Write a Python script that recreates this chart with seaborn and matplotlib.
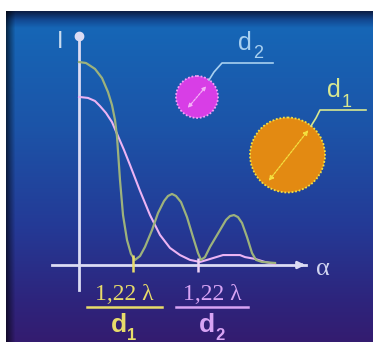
import numpy as np
import pandas as pd
import matplotlib
matplotlib.use("Agg")
import matplotlib.pyplot as plt
import seaborn as sns
from matplotlib.patches import Circle

# ---- data (alpha in units of 1,22 lambda/d1 ; intensity relative to peak) ----
alpha_d1 = [0.000, 0.130, 0.296, 0.426, 0.537, 0.611, 0.667, 0.704, 0.759, 0.815,
            0.889, 0.963, 1.037, 1.130, 1.222, 1.352, 1.463, 1.574, 1.648, 1.722,
            1.796, 1.889, 2.000, 2.111, 2.204, 2.259, 2.333, 2.426, 2.611, 2.722,
            2.796, 2.870, 2.944, 3.019, 3.111, 3.204, 3.278, 3.389, 3.630]
intensity_d1 = [1.000, 0.995, 0.966, 0.921, 0.852, 0.788, 0.714, 0.631, 0.419, 0.246,
                0.123, 0.054, 0.025, 0.044, 0.089, 0.172, 0.256, 0.315, 0.340, 0.350,
                0.340, 0.310, 0.236, 0.138, 0.059, 0.025, 0.039, 0.089, 0.172, 0.222,
                0.241, 0.246, 0.236, 0.207, 0.138, 0.059, 0.025, 0.015, 0.010]
alpha_d2 = [0.000, 0.167, 0.296, 0.389, 0.500, 0.611, 0.722, 0.833, 0.944, 1.130,
            1.315, 1.500, 1.685, 1.870, 2.056, 2.241, 2.370, 2.481, 2.667, 2.981,
            3.074, 3.259, 3.444, 3.630]
intensity_d2 = [0.828, 0.823, 0.808, 0.783, 0.749, 0.704, 0.635, 0.567, 0.493, 0.365,
                0.246, 0.148, 0.084, 0.049, 0.025, 0.015, 0.025, 0.034, 0.049, 0.049,
                0.039, 0.030, 0.015, 0.005]
tick_positions = [1.0, 2.2]
tick_numerators = ["1,22 λ", "1,22 λ"]
tick_denominators = ["d", "d"]
tick_subscripts = ["1", "2"]

GREEN = "#9db27c"
PINK = "#ecb4f4"
YELLOW = "#e8dc6a"
LILAC = "#d8a4f4"
AXIS = "#dcdcf4"

W, H = 375, 350
fig = plt.figure(figsize=(W / 100, H / 100), dpi=100)
fig.patch.set_facecolor("white")

# ---- background panel with vertical gradient ----
pw, ph = 367, 331
stops_t = [0.0, 0.025, 0.05, 0.35, 0.65, 0.88, 1.0]
stops_c = np.array([[12, 30, 70], [18, 72, 145], [22, 102, 182], [28, 84, 168],
                    [36, 58, 150], [46, 36, 124], [52, 28, 112]]) / 255.0
t = np.linspace(0, 1, ph)
col = np.stack([np.interp(t, stops_t, stops_c[:, k]) for k in range(3)], axis=1)
grad = np.repeat(col[:, None, :], pw, axis=1)
xs = np.arange(pw)
fx = np.clip(0.4 + 0.6 * xs / 9.0, 0, 1)
grad = grad * fx[None, :, None]
bg = fig.add_axes([6 / W, 1 - 342 / H, pw / W, ph / H])
bg.imshow(grad, aspect="auto", extent=[0, 1, 0, 1], interpolation="bilinear")
bg.axis("off")

# ---- main axes: origin of the graph ----
ax = fig.add_axes([0, 0, 1, 1])
ax.set_facecolor("none")
ax.set_xlim(-79 / 54, 296 / 54)
ax.set_ylim(-85 / 203, 265 / 203)

df1 = pd.DataFrame({"alpha": alpha_d1, "I": intensity_d1})
df2 = pd.DataFrame({"alpha": alpha_d2, "I": intensity_d2})
sns.lineplot(data=df2, x="alpha", y="I", sort=False, estimator=None,
             color=PINK, lw=1.5, ax=ax, zorder=3)
sns.lineplot(data=df1, x="alpha", y="I", sort=False, estimator=None,
             color=GREEN, lw=1.6, ax=ax, zorder=4)

for s in ["top", "right"]:
    ax.spines[s].set_visible(False)
ax.spines["left"].set_position(("data", 0))
ax.spines["bottom"].set_position(("data", 0))
ax.spines["left"].set_bounds(-0.123, 1.128)
ax.spines["bottom"].set_bounds(-0.5, 4.2)
for s in ["left", "bottom"]:
    ax.spines[s].set_color(AXIS)
    ax.spines[s].set_linewidth(2)
    ax.spines[s].set_zorder(2)
ax.set_yticks([])
ax.set_xticks([])
ax.set_xlabel("")
ax.set_ylabel("")
# coloured tick marks at the two first minima
ax.vlines(tick_positions, [-0.035, -0.035], [0.05, 0.035],
          colors=[YELLOW, "#ecd0f4"], lw=1.8, zorder=6)
ax.annotate("", xy=(4.24, 0), xytext=(4.05, 0),
            arrowprops=dict(arrowstyle="-|>", color=AXIS, lw=2, mutation_scale=10))
ax.plot([0], [1.128], "o", color=AXIS, ms=6, zorder=5)

# ---- decoration layer in pixel coordinates ----
dx = fig.add_axes([0, 0, 1, 1])
dx.set_xlim(0, W)
dx.set_ylim(H, 0)
dx.axis("off")
dx.patch.set_alpha(0)

# small aperture d2
dx.add_patch(Circle((197, 97), 21, facecolor="#d83ee6", edgecolor="#f4a0f8",
                    lw=1.3, ls=(0, (1, 1))))
dx.annotate("", xy=(208, 84), xytext=(186, 110),
            arrowprops=dict(arrowstyle="<|-|>", color="#f4b0f8", lw=0.9,
                            mutation_scale=6, linestyle=(0, (2, 1))))
dx.plot([209, 214, 222, 273], [80, 72, 63, 63], color="#a8d0f0", lw=1.2)
dx.text(245, 50, "d", ha="center", va="baseline", fontsize=18,
        color="#a8d0f0", family="Liberation Sans")
dx.text(258, 58, "2", ha="center", va="baseline", fontsize=13,
        color="#a8d0f0", family="Liberation Sans")

# large aperture d1
dx.add_patch(Circle((287.5, 155), 37.5, facecolor="#e38a12", edgecolor="#f4e040",
                    lw=1.3, ls=(0, (1, 1))))
dx.annotate("", xy=(310, 128), xytext=(267, 183),
            arrowprops=dict(arrowstyle="<|-|>", color="#f4e040", lw=0.9,
                            mutation_scale=7, linestyle=(0, (2, 1))))
dx.plot([311, 316, 320, 366], [126, 118, 110, 110], color="#d8e890", lw=1.2)
dx.text(334, 97, "d", ha="center", va="baseline", fontsize=18,
        color="#d8e890", family="Liberation Sans")
dx.text(347, 107, "1", ha="center", va="baseline", fontsize=13,
        color="#d8e890", family="Liberation Sans")

# axis labels
dx.text(60, 48, "I", ha="center", va="baseline", fontsize=17,
        color="#c8dcf0", family="Liberation Sans")
dx.text(323, 275, "α", ha="center", va="baseline", fontsize=19,
        color="#d0d4f0", family="Liberation Serif")

# fraction labels under the ticks
centers = [124, 212]
spans = [(87, 162), (176, 248)]
colors = [YELLOW, LILAC]
for i in range(2):
    dx.text(centers[i], 300, tick_numerators[i], ha="center", va="baseline",
            fontsize=17, color=colors[i], family="Liberation Serif")
    dx.plot(list(spans[i]), [307, 307], color=colors[i], lw=1.8)
    dx.text(centers[i] - 5, 332, tick_denominators[i], ha="center", va="baseline",
            fontsize=19, color=colors[i], family="Liberation Sans", weight="bold")
    dx.text(centers[i] + 8, 340, tick_subscripts[i], ha="center", va="baseline",
            fontsize=12, color=colors[i], family="Liberation Sans", weight="bold")

fig.savefig("out.png", dpi=100)
